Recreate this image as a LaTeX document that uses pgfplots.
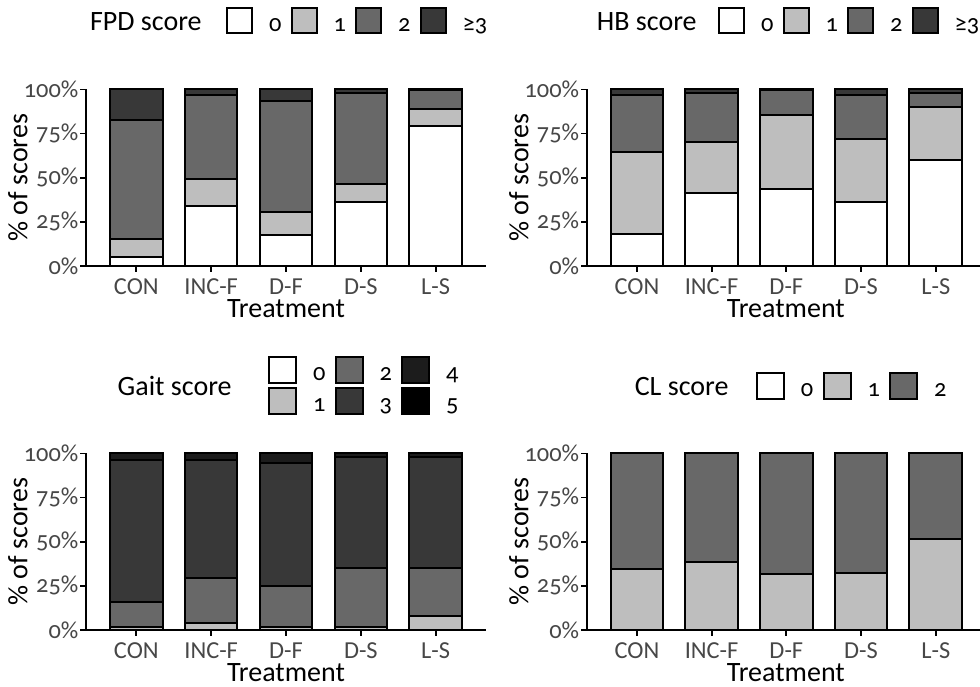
\documentclass[border=0pt]{standalone}
\usepackage{fontspec}
\setmainfont{Carlito}[Numbers=OldStyle]
\usepackage{pgfplots}
\pgfplotsset{compat=1.18}
\definecolor{g1}{RGB}{190,190,190}
\definecolor{g2}{RGB}{104,104,104}
\definecolor{g3}{RGB}{56,56,56}
\definecolor{g4}{RGB}{28,28,28}
\definecolor{g5}{RGB}{0,0,0}
\pgfplotsset{
 panel/.style={
  scale only axis, height=88.3pt,
  ybar stacked, bar width=0.704,
  ymin=0, ymax=100,
  axis x line*=bottom, axis y line*=left,
  axis line style={line width=1pt, black},
  xtick={0,1,2,3,4}, xticklabels={CON,INC-F,D-F,D-S,L-S},
  ytick={0,25,50,75,100}, yticklabels={0\%,25\%,50\%,75\%,100\%},
  tick align=outside, major tick length=2.8pt, tick style={line width=0.9pt, black},
  ticklabel style={font=\fontsize{12.2}{14}\selectfont, text=black!72},
  yticklabel style={inner sep=0.8pt},
  xticklabel style={inner sep=0pt, yshift=-3.2pt},
  label style={font=\fontsize{14}{16}\selectfont},
  xlabel={Treatment}, ylabel={\% of scores},
  xlabel style={at={(axis description cs:0.5,-0.244)}, anchor=center, inner sep=0pt},
  ylabel style={at={(axis description cs:-0.17,0.5)}, anchor=center},
  every axis plot/.append style={draw=black, line width=1pt},
  legend image code/.code={\draw[##1, line width=1pt, draw=black] (0pt,-3.4pt) rectangle (12.5pt,9.1pt);},
  legend style={draw=none, fill=none, legend columns=-1, inner sep=0pt, outer sep=0pt,
    font=\fontsize{12.2}{14}\selectfont, nodes={inner sep=0pt},
    /tikz/every odd column/.style={column sep=8pt},
    /tikz/every even column/.style={column sep=4.6pt}, anchor=west},
  clip=false,
 },
 leftpanel/.style={panel, width=200pt, xmin=-0.672, xmax=4.672},
 rightpanel/.style={panel, width=199.15pt, xmin=-0.672, xmax=4.659},
}
\begin{document}
\begin{tikzpicture}
\useasboundingbox (0pt,0pt) rectangle (490pt,-343pt);
% FPD
\begin{axis}[leftpanel, at={(43pt,-133pt)}, anchor=south west,
  legend style={at={(axis description cs:0.35,1.388)}}]
\addplot[fill=white] coordinates {(0,5.1) (1,34.0) (2,17.5) (3,36.0) (4,79.4)};
\addplot[fill=g1] coordinates {(0,10.0) (1,15.1) (2,12.9) (3,10.2) (4,9.3)};
\addplot[fill=g2] coordinates {(0,67.5) (1,47.9) (2,63.2) (3,51.5) (4,10.9)};
\addplot[fill=g3] coordinates {(0,17.4) (1,3.0) (2,6.4) (3,2.3) (4,0.4)};
\legend{0,1,2,≥3}
\node[anchor=east, font=\fontsize{14}{16}\selectfont, inner sep=0pt] at (axis description cs:0.29,1.385) {FPD score};
\end{axis}
% HB
\begin{axis}[rightpanel, at={(293.35pt,-133pt)}, anchor=south west,
  legend style={at={(axis description cs:0.3297,1.388)}}]
\addplot[fill=white] coordinates {(0,18.1) (1,41.1) (2,43.6) (3,36.0) (4,60.0)};
\addplot[fill=g1] coordinates {(0,46.2) (1,28.9) (2,42.1) (3,36.1) (4,30.2)};
\addplot[fill=g2] coordinates {(0,32.7) (1,27.7) (2,14.0) (3,24.9) (4,7.9)};
\addplot[fill=g3] coordinates {(0,3.0) (1,2.3) (2,0.3) (3,3.0) (4,1.9)};
\legend{0,1,2,≥3}
\node[anchor=east, font=\fontsize{14}{16}\selectfont, inner sep=0pt] at (axis description cs:0.277,1.385) {HB score};
\end{axis}
% Gait
\begin{axis}[leftpanel, at={(43pt,-315pt)}, anchor=south west,
  legend image code/.code={\draw[#1, line width=1pt, draw=black] (0pt,-3.6pt) rectangle (13.5pt,9.4pt);},
  legend columns=2, transpose legend,
  legend style={at={(axis description cs:0.455,1.3865)}, row sep=1.5pt}]
\addplot[fill=white] coordinates {(0,0) (1,0) (2,0) (3,0) (4,0)};
\addplot[fill=g1] coordinates {(0,1.5) (1,4.0) (2,1.5) (3,1.5) (4,8.0)};
\addplot[fill=g2] coordinates {(0,14.3) (1,25.4) (2,23.6) (3,33.6) (4,27.1)};
\addplot[fill=g3] coordinates {(0,80.4) (1,66.8) (2,69.2) (3,63.0) (4,63.0)};
\addplot[fill=g4] coordinates {(0,3.8) (1,3.8) (2,5.7) (3,1.9) (4,1.9)};
\addlegendimage{fill=g5, draw=black}
\legend{0,1,2,3,4,5}
\node[anchor=east, font=\fontsize{14}{16}\selectfont, inner sep=0pt] at (axis description cs:0.365,1.381) {Gait score};
\end{axis}
% CL
\begin{axis}[rightpanel, at={(293.35pt,-315pt)}, anchor=south west,
  legend image code/.code={\draw[#1, line width=1pt, draw=black] (0pt,-3.6pt) rectangle (13.5pt,9.4pt);},
  legend style={at={(axis description cs:0.425,1.384)}}]
\addplot[fill=white] coordinates {(0,0) (1,0) (2,0) (3,0) (4,0)};
\addplot[fill=g1] coordinates {(0,34.3) (1,38.7) (2,31.7) (3,32.5) (4,51.3)};
\addplot[fill=g2] coordinates {(0,65.7) (1,61.3) (2,68.3) (3,67.5) (4,48.7)};
\legend{0,1,2}
\node[anchor=east, font=\fontsize{14}{16}\selectfont, inner sep=0pt] at (axis description cs:0.357,1.381) {CL score};
\end{axis}
\end{tikzpicture}
\end{document}
